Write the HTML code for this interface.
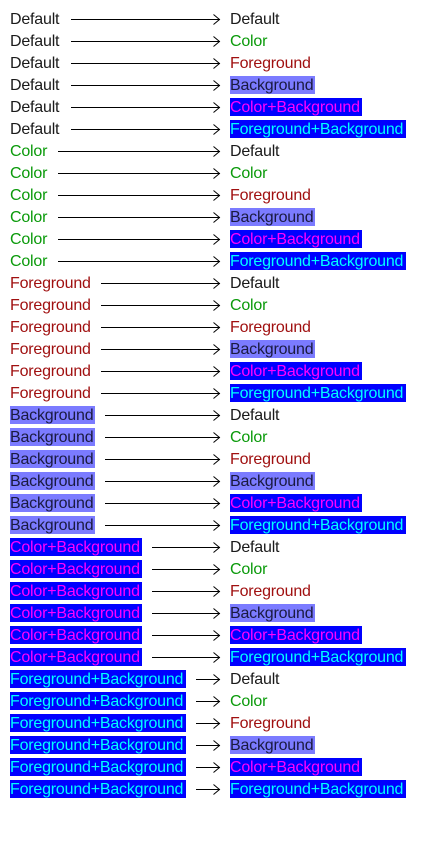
<!DOCTYPE html>
<html><head><meta charset="utf-8"><style>
body{margin:0;width:440px;height:850px;background:#fff;position:relative;font-family:"Liberation Sans",sans-serif;font-size:16px;overflow:hidden}
.t{position:absolute;height:18px;line-height:20px;white-space:nowrap;letter-spacing:-0.2px}
.d{color:#1a1a1a}.c{color:#0a9a0a}.f{color:#a01010}
.b{background:#7b7bff;color:#1a1a40}.cb{background:#0000ff;color:#ff00ff}.fb{background:#0000ff;color:#00ffff}
svg{position:absolute;left:0;top:0}
</style></head><body>
<div id="r"></div>
<svg width="440" height="850" id="s"></svg>
<script>
var L=[["Default","d",0,71],["Color","c",0,58],["Foreground","f",0,101],["Background","b",85,105],["Color+Background","cb",132,152],["Foreground+Background","fb",176,196]];
var R=L;var h="",s="";
for(var i=0;i<6;i++)for(var j=0;j<6;j++){var k=i*6+j,y=10+22*k,cy=19.5+22*k;
var a=L[i],b=R[j];
h+='<div class="t '+a[1]+'" style="left:10px;top:'+y+'px;'+(a[2]?'width:'+a[2]+'px':'')+'">'+a[0]+'</div>';
h+='<div class="t '+b[1]+'" style="left:230px;top:'+y+'px;'+(b[2]?'width:'+b[2]+'px':'')+'">'+b[0]+'</div>';
s+='<line x1="'+a[3]+'" y1="'+cy+'" x2="220" y2="'+cy+'" stroke="#000" stroke-width="1"/><polyline points="213.5,'+(cy-5)+' 219.5,'+cy+' 213.5,'+(cy+5)+'" fill="none" stroke="#000" stroke-width="1"/>';}
document.getElementById("r").innerHTML=h;document.getElementById("s").innerHTML=s;
</script>
</body></html>
